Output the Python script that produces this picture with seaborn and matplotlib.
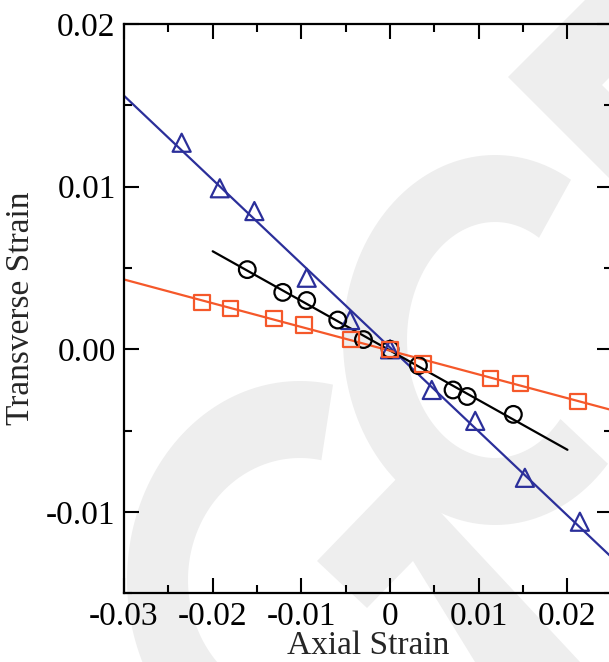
import numpy as np
import pandas as pd
import matplotlib
matplotlib.use("Agg")
import matplotlib.pyplot as plt
from matplotlib.patches import Polygon
from matplotlib.ticker import FixedLocator, MultipleLocator
import seaborn as sns

# data
blue_x = [-0.0235, -0.0192, -0.0153, -0.0094, -0.0045, 0.0, 0.0047, 0.0096, 0.0152, 0.0214]
blue_y = [0.0127, 0.0099, 0.0085, 0.0044, 0.0018, 0.0, -0.0025, -0.0044, -0.0079, -0.0106]

black_x = [-0.0161, -0.0121, -0.0094, -0.0059, -0.0030, 0.0, 0.0032, 0.0071, 0.0087, 0.0139]
black_y = [0.0049, 0.0035, 0.0030, 0.0018, 0.0006, 0.0, -0.0010, -0.0025, -0.0029, -0.0040]

orange_x = [-0.0212, -0.0180, -0.0131, -0.0097, -0.0044, 0.0, 0.0037, 0.0113, 0.0147, 0.0212]
orange_y = [0.0029, 0.0025, 0.0019, 0.0015, 0.0006, 0.0, -0.0009, -0.0018, -0.0021, -0.0032]

# x range over which each fitted line is drawn
blue_span = [-0.035, 0.035]
black_span = [-0.020, 0.020]
orange_span = [-0.035, 0.035]

x_ticks = [-0.03, -0.02, -0.01, 0.0, 0.01, 0.02]
x_labels = ["-0.03", "-0.02", "-0.01", "0", "0.01", "0.02"]
y_ticks = [-0.01, 0.0, 0.01, 0.02]
y_labels = ["-0.01", "0.00", "0.01", "0.02"]

BLUE = "#2b2f9a"
ORANGE = "#f5582a"
BLACK = "#000000"
WM = "#eeeeee"

sns.set_style("ticks")
plt.rcParams["font.family"] = ["Liberation Serif", "DejaVu Serif"]

W, H = 609, 662
fig = plt.figure(figsize=(W / 100, H / 100), dpi=100)
fig.patch.set_facecolor("white")


# light grey watermark behind the plot (pixel coords, y from top)
def px(pts):
    return [(x, H - y) for x, y in pts]


def ring(cx, cy, ao, bo, ai, bi, t0, t1):
    t = np.radians(np.linspace(t0, t1, 120))
    outer = [(cx + ao * np.cos(a), cy - bo * np.sin(a)) for a in t]
    inner = [(cx + ai * np.cos(a), cy - bi * np.sin(a)) for a in t[::-1]]
    return outer + inner


shapes = [
    ring(495, 340, 152, 185, 88, 118, 60, 318),
    ring(300, 580, 173, 199, 112, 122, 79, 300),
    [(403, 472), (317, 561), (367, 608), (413, 561), (475, 662), (580, 662)],
    [(508, 77), (585, 0), (687, 0), (602, 85), (700, 183), (700, 269)],
]
for s in shapes:
    fig.patches.append(Polygon(px(s), closed=True, transform=None,
                               facecolor=WM, edgecolor="none", zorder=-1))

ax = fig.add_axes([124 / W, (H - 593.3) / H, (611.8 - 124) / W, (593.3 - 24) / H])
ax.set_facecolor("none")

series = [
    (blue_x, blue_y, blue_span, BLUE, "^", 13),
    (black_x, black_y, black_span, BLACK, "o", 12),
    (orange_x, orange_y, orange_span, ORANGE, "s", 11),
]

for xs, ys, span, col, mk, ms in series:
    k, b = np.polyfit(xs, ys, 1)
    fit = pd.DataFrame({"x": span, "y": [k * v + b for v in span]})
    sns.lineplot(data=fit, x="x", y="y", color=col, lw=1.6, ax=ax, zorder=2)
    pts = pd.DataFrame({"x": xs, "y": ys})
    sns.scatterplot(data=pts, x="x", y="y", marker=mk, s=ms ** 2,
                    facecolors="none", edgecolor=col, linewidth=1.6,
                    ax=ax, zorder=3)

ax.set_xlim(-0.03, 0.025)
ax.set_ylim(-0.015, 0.02)

ax.xaxis.set_major_locator(FixedLocator(x_ticks))
ax.set_xticklabels(x_labels)
ax.yaxis.set_major_locator(FixedLocator(y_ticks))
ax.set_yticklabels(y_labels)
ax.xaxis.set_minor_locator(MultipleLocator(0.005))
ax.yaxis.set_minor_locator(MultipleLocator(0.005))

ax.tick_params(which="both", direction="in", top=True, right=True,
               width=1.5, colors="black", labelsize=24)
ax.tick_params(which="major", length=10.5, pad=6)
ax.tick_params(which="minor", length=5.5)

for sp in ax.spines.values():
    sp.set_linewidth(1.6)
    sp.set_color("black")

ax.set_xlabel("Axial Strain", fontsize=24, labelpad=-1.5)
ax.set_ylabel("Transverse Strain", fontsize=24, labelpad=7)

fig.savefig("out.png", dpi=100)
